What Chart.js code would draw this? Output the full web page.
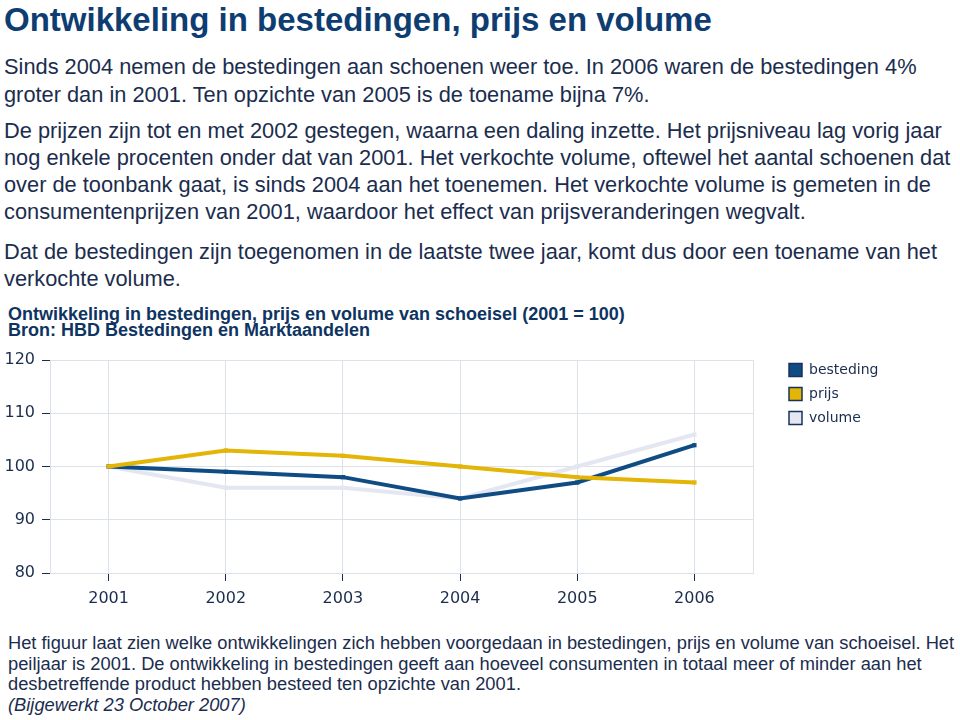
<!DOCTYPE html>
<html lang="nl">
<head>
    <meta charset="UTF-8">
    <title>Ontwikkeling in bestedingen, prijs en volume</title>
    <script src="https://cdn.jsdelivr.net/npm/chart.js"></script>
    <style>
        body { margin: 0; width: 960px; height: 720px; background: #fff; position: relative; overflow: hidden;
               font-family: "Liberation Sans", Arial, sans-serif; color: #1b2d4e; }
        .blk { position: absolute; left: 4px; white-space: nowrap; }
        h1 { margin: 0; font-size: 33px; line-height: 36px; color: #0e3d72; font-weight: bold; }
        .p { font-size: 21.8px; line-height: 28px; }
        .ct { font-size: 18px; line-height: 16px; font-weight: bold; color: #0e3461; left: 8px; }
        .ft { font-size: 18.3px; line-height: 20.5px; left: 8px; }
        #wrap { position: absolute; left: 0; top: 340px; width: 960px; height: 280px; }
    </style>
</head>
<body>
    <div class="blk" style="top:2px"><h1>Ontwikkeling in bestedingen, prijs en volume</h1></div>
    <div class="blk p" style="top:53px">Sinds 2004 nemen de bestedingen aan schoenen weer toe. In 2006 waren de bestedingen 4%<br>groter dan in 2001. Ten opzichte van 2005 is de toename bijna 7%.</div>
    <div class="blk p" style="top:117px;line-height:27px">De prijzen zijn tot en met 2002 gestegen, waarna een daling inzette. Het prijsniveau lag vorig jaar<br>nog enkele procenten onder dat van 2001. Het verkochte volume, oftewel het aantal schoenen dat<br>over de toonbank gaat, is sinds 2004 aan het toenemen. Het verkochte volume is gemeten in de<br>consumentenprijzen van 2001, waardoor het effect van prijsveranderingen wegvalt.</div>
    <div class="blk p" style="top:238px;line-height:27px">Dat de bestedingen zijn toegenomen in de laatste twee jaar, komt dus door een toename van het<br>verkochte volume.</div>
    <div class="blk ct" style="top:306px">Ontwikkeling in bestedingen, prijs en volume van schoeisel (2001 = 100)<br>Bron: HBD Bestedingen en Marktaandelen</div>

    <div id="wrap"><canvas id="chart"></canvas></div>

    <div class="blk ft" style="top:633px">Het figuur laat zien welke ontwikkelingen zich hebben voorgedaan in bestedingen, prijs en volume van schoeisel. Het<br>peiljaar is 2001. De ontwikkeling in bestedingen geeft aan hoeveel consumenten in totaal meer of minder aan het<br>desbetreffende product hebben besteed ten opzichte van 2001.<br><i>(Bijgewerkt 23 October 2007)</i></div>

    <script>
        // chart data (2001 = 100)
        const years = ['2001', '2002', '2003', '2004', '2005', '2006'];
        const besteding = [100, 99, 98, 94, 97, 104];
        const prijs = [100, 103, 102, 100, 98, 97];
        const volume = [100, 96, 96, 94, 100, 106];
        const yTicks = [80, 90, 100, 110, 120];

        const navy = '#1b2d4e';
        const gridCol = '#dde1ea';

        // move the legend a bit away from the plot, like the original
        const legendShift = {
            id: 'legendShift',
            afterLayout(chart) {
                const lg = chart.legend;
                lg.left = 779; lg.right = lg.left + lg.width;
                lg.top = 13; lg.bottom = lg.top + lg.height;
            }
        };

        new Chart(document.getElementById('chart'), {
            type: 'line',
            data: {
                labels: years,
                datasets: [
                    { label: 'besteding', data: besteding, borderColor: '#0f4c84', backgroundColor: '#0f4c84', order: 2 },
                    { label: 'prijs', data: prijs, borderColor: '#e2b507', backgroundColor: '#e2b507', order: 1 },
                    { label: 'volume', data: volume, borderColor: '#e4e7f1', backgroundColor: '#e4e7f1', order: 3 }
                ]
            },
            options: {
                responsive: true,
                maintainAspectRatio: false,
                animation: false,
                font: { family: 'DejaVu Sans' },
                layout: { padding: { top: 20, left: 0, right: 107, bottom: 0 } },
                elements: {
                    line: { borderWidth: 4, tension: 0 },
                    point: { pointStyle: 'rect', radius: 3, borderWidth: 0 }
                },
                plugins: {
                    title: { display: false },
                    tooltip: { enabled: false },
                    legend: {
                        position: 'right',
                        align: 'start',
                        maxWidth: 100,
                        labels: {
                            boxWidth: 13, boxHeight: 13, padding: 10,
                            color: navy,
                            font: { family: 'DejaVu Sans', size: 14 },
                            sort: (a, b) => a.datasetIndex - b.datasetIndex,
                            generateLabels(chart) {
                                const items = Chart.defaults.plugins.legend.labels.generateLabels(chart);
                                items.forEach(it => {
                                    const ds = chart.data.datasets[it.datasetIndex];
                                    it.fillStyle = ds.borderColor;
                                    it.strokeStyle = '#17335c';
                                    it.lineWidth = 1.5;
                                });
                                return items;
                            }
                        }
                    }
                },
                scales: {
                    x: {
                        offset: true,
                        grid: { color: gridCol, tickColor: navy, tickLength: 8, offset: false },
                        border: { color: gridCol },
                        ticks: { color: navy, padding: 8, font: { family: 'DejaVu Sans', size: 16 } },
                        afterFit(s) { s.height = 47; }
                    },
                    y: {
                        min: 80, max: 120,
                        afterBuildTicks(s) { s.ticks = yTicks.map(v => ({ value: v })); },
                        grid: { color: gridCol, tickColor: navy, tickLength: 8 },
                        border: { color: gridCol },
                        ticks: { color: navy, padding: 7, font: { family: 'DejaVu Sans', size: 16 } },
                        afterFit(s) { s.width = 50; }
                    },
                    y2: {
                        position: 'right',
                        min: 80, max: 120,
                        grid: { display: false, drawOnChartArea: false },
                        border: { display: true, color: gridCol },
                        ticks: { display: false },
                        afterFit(s) { s.width = 0; }
                    }
                }
            },
            plugins: [legendShift]
        });
    </script>
</body>
</html>
